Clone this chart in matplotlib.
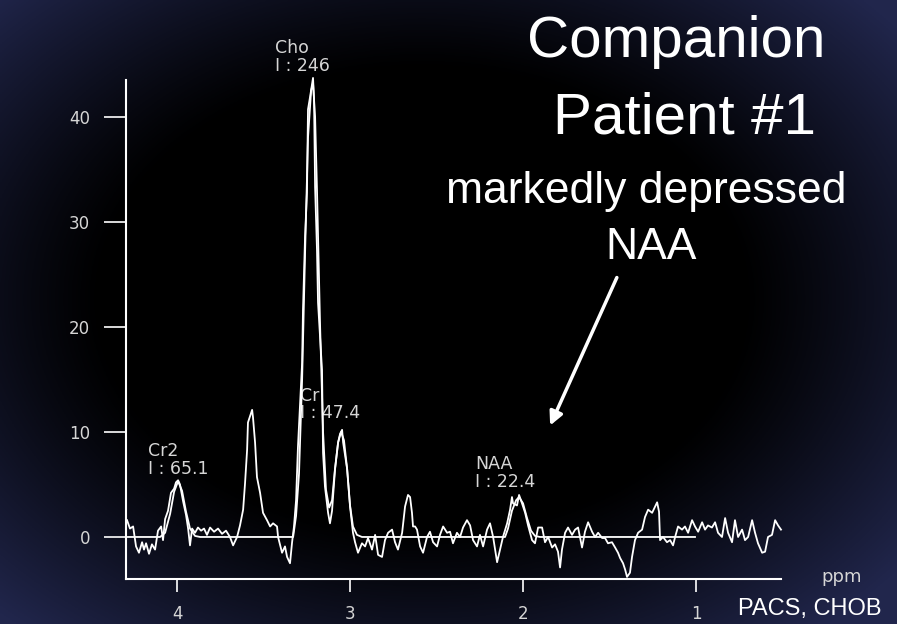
import numpy as np
import matplotlib
matplotlib.use("Agg")
import matplotlib.pyplot as plt

# ---- spectrum (chemical shift in ppm, signal amplitude) ----
spectrum_ppm = [
    4.289, 4.272, 4.254, 4.237, 4.220, 4.202, 4.191, 4.179, 4.162, 4.145,
    4.127, 4.110, 4.092, 4.081, 4.069, 4.052, 4.035, 4.017, 4.006, 3.994,
    3.983, 3.965, 3.948, 3.936, 3.925, 3.913, 3.896, 3.879, 3.861, 3.844,
    3.827, 3.809, 3.786, 3.763, 3.740, 3.717, 3.694, 3.676, 3.653, 3.636,
    3.618, 3.607, 3.595, 3.590, 3.578, 3.566, 3.561, 3.549, 3.538, 3.520,
    3.503, 3.480, 3.462, 3.445, 3.422, 3.416, 3.393, 3.376, 3.364, 3.347,
    3.335, 3.324, 3.312, 3.301, 3.277, 3.272, 3.260, 3.249, 3.243, 3.231,
    3.214, 3.208, 3.202, 3.191, 3.185, 3.162, 3.156, 3.145, 3.127, 3.116,
    3.104, 3.087, 3.069, 3.058, 3.046, 3.040, 3.017, 3.000, 2.983, 2.971,
    2.954, 2.931, 2.913, 2.896, 2.873, 2.855, 2.838, 2.815, 2.798, 2.780,
    2.757, 2.740, 2.723, 2.699, 2.682, 2.665, 2.653, 2.642, 2.636, 2.624,
    2.613, 2.595, 2.578, 2.555, 2.538, 2.520, 2.497, 2.480, 2.462, 2.439,
    2.422, 2.405, 2.382, 2.364, 2.347, 2.324, 2.306, 2.289, 2.266, 2.249,
    2.231, 2.208, 2.191, 2.173, 2.150, 2.133, 2.116, 2.092, 2.075, 2.064,
    2.058, 2.035, 2.023, 2.006, 1.988, 1.971, 1.948, 1.931, 1.913, 1.890,
    1.873, 1.855, 1.832, 1.815, 1.798, 1.786, 1.775, 1.757, 1.740, 1.717,
    1.699, 1.682, 1.659, 1.642, 1.624, 1.601, 1.584, 1.566, 1.543, 1.526,
    1.509, 1.486, 1.468, 1.451, 1.439, 1.422, 1.410, 1.399, 1.382, 1.370,
    1.353, 1.335, 1.312, 1.295, 1.277, 1.254, 1.237, 1.225, 1.214, 1.208,
    1.191, 1.168, 1.150, 1.133, 1.121, 1.104, 1.081, 1.064, 1.046, 1.023,
    1.006, 0.988, 0.965, 0.948, 0.931, 0.908, 0.890, 0.873, 0.850, 0.832,
    0.815, 0.792, 0.775, 0.757, 0.734, 0.717, 0.699, 0.676, 0.659, 0.642,
    0.618, 0.601, 0.584, 0.561, 0.543, 0.526, 0.509,
]
spectrum_amp = [
    1.6, 0.8, 1.0, -0.9, -1.5, -0.5, -1.2, -0.6, -1.6, -0.7,
    -1.2, 0.6, 1.0, -0.3, 1.7, 2.5, 4.2, 4.6, 5.2, 5.4,
    5.0, 3.4, 2.1, 0.8, -0.8, 0.8, 0.4, 0.9, 0.6, 0.8,
    0.2, 0.9, 0.5, 0.8, 0.3, 0.6, 0.0, -0.8, 0.0, 1.1,
    2.6, 5.1, 8.3, 10.9, 11.5, 12.1, 11.4, 9.0, 5.7, 4.2,
    2.3, 1.6, 1.0, 1.3, 1.0, 0.0, -1.5, -0.9, -1.9, -2.5,
    -0.5, 1.0, 3.5, 8.6, 16.6, 21.6, 28.6, 32.8, 40.7, 41.9,
    43.7, 41.6, 33.3, 27.3, 22.3, 15.9, 8.0, 4.8, 2.3, 1.3,
    2.5, 6.4, 9.0, 9.8, 10.2, 9.0, 6.5, 2.9, 0.4, -0.5,
    -1.5, -0.6, -0.9, -0.1, -1.2, 0.2, -1.7, -1.9, -0.3, 0.4,
    0.7, -0.5, -1.2, 0.4, 2.9, 4.0, 3.8, 2.3, 1.0, 1.0,
    0.7, -0.9, -1.5, 0.0, 0.5, -0.5, -0.9, 0.2, 1.0, 0.4,
    0.5, -0.6, 0.4, 0.0, 0.9, 1.6, 1.1, -0.3, -0.9, 0.2,
    -0.9, 0.7, 1.3, 0.0, -2.4, -1.2, 0.0, 1.3, 2.6, 3.8,
    3.2, 3.0, 4.0, 3.2, 2.3, 1.1, -0.3, -0.6, 0.9, 0.9,
    -0.5, 0.0, -1.0, -0.7, -1.4, -2.9, -1.2, 0.4, 0.9, 0.2,
    0.7, 0.9, -1.0, 0.5, 1.4, 0.5, 0.0, 0.4, -0.1, -0.1,
    -0.6, -0.5, -1.0, -1.5, -2.0, -2.5, -3.1, -3.8, -3.4, -1.9,
    -0.3, 0.4, 0.7, 1.9, 2.6, 2.3, 2.9, 3.3, 2.4, -0.3,
    0.0, -0.5, -0.3, -0.8, 0.0, 1.0, 0.7, 1.0, 0.4, 1.6,
    1.0, 0.5, 1.4, 0.7, 1.1, 0.9, 1.4, 0.4, 0.0, 1.8,
    0.4, -0.5, 1.6, 0.0, 0.7, -0.3, 0.0, 1.6, 0.4, -0.6,
    -1.5, -1.4, 0.0, 0.2, 1.6, 1.1, 0.7,
]

# ---- fitted model (baseline plus metabolite peaks) ----
fit_ppm = [
    4.295, 4.098, 4.069, 4.040, 4.017, 3.994, 3.971, 3.948, 3.925, 3.896,
    3.867, 3.329, 3.312, 3.295, 3.277, 3.260, 3.243, 3.225, 3.214, 3.202,
    3.191, 3.173, 3.156, 3.139, 3.121, 3.104, 3.087, 3.069, 3.052, 3.035,
    3.017, 3.000, 2.983, 2.960, 2.931, 2.104, 2.087, 2.064, 2.040, 2.023,
    2.000, 1.977, 1.954, 1.931, 1.902, 1.006,
]
fit_amp = [
    0.0, 0.0, 0.4, 2.2, 4.3, 5.3, 4.4, 2.4, 0.8, 0.1,
    0.0, 0.0, 2.0, 6.0, 15.0, 27.0, 38.0, 42.5, 43.2, 40.0,
    33.0, 20.0, 10.0, 4.5, 2.8, 3.5, 6.5, 9.0, 10.0, 9.2,
    6.5, 3.0, 1.0, 0.2, 0.0, 0.0, 0.8, 2.5, 3.5, 3.8,
    3.2, 1.8, 0.6, 0.1, 0.0, 0.0,
]

# ---- metabolite annotations ----
peak_names = ["Cho", "Cr2", "Cr", "NAA"]
peak_integrals = ["246", "65.1", "47.4", "22.4"]
label_ppm = [3.434, 4.168, 3.289, 2.277]
label_top = [47.4, 9.0, 14.3, 7.8]

x_ticks = [4, 3, 2, 1]
y_ticks = [0, 10, 20, 30, 40]

W, H = 897, 624
fig = plt.figure(figsize=(W / 100, H / 100), dpi=100)
fig.patch.set_facecolor("black")

# dark navy vignette behind everything
bg = fig.add_axes([0, 0, 1, 1], zorder=-5)
gx, gy = np.meshgrid(np.linspace(0, 1, 450), np.linspace(0, 1, 312))
d = np.sqrt(((gx - 0.47) / 0.58) ** 2 + ((gy - 0.52) / 0.60) ** 2)
t = np.clip((d - 0.62) / 0.55, 0, 1) ** 1.1
edge = np.array([0.13, 0.15, 0.30])
img = t[..., None] * edge[None, None, :]
bg.imshow(img, extent=[0, 1, 0, 1], aspect="auto", origin="lower")
bg.axis("off")

# spectrum axes
ax = fig.add_axes([126 / W, 1 - 579 / H, (781 - 126) / W, (579 - 80) / H])
ax.set_facecolor("none")
ax.set_xlim(4.295, 0.509)
ax.set_ylim(-4.0, 43.5)

ax.plot(fit_ppm, fit_amp, color="white", lw=1.3, clip_on=False, zorder=3)
ax.plot(spectrum_ppm, spectrum_amp, color="white", lw=1.3, clip_on=False, zorder=4)

for s in ["top", "right"]:
    ax.spines[s].set_visible(False)
for s in ["left", "bottom"]:
    ax.spines[s].set_color("white")
    ax.spines[s].set_linewidth(1.5)

label_color = "#d6d6d6"
ax.set_xticks(x_ticks)
ax.set_xticklabels([str(v) for v in x_ticks])
ax.set_yticks(y_ticks)
ax.set_yticklabels([str(v) for v in y_ticks])
ax.tick_params(axis="y", direction="out", length=16, width=1.2, color="white",
               labelcolor=label_color, labelsize=12, pad=10)
ax.tick_params(axis="x", direction="out", length=9, width=1.2, color="white",
               labelcolor=label_color, labelsize=12, pad=10)

for name, integ, px, py in zip(peak_names, peak_integrals, label_ppm, label_top):
    ax.text(px, py, f"{name}\nI : {integ}", color=label_color, fontsize=12.5,
            family="DejaVu Sans", ha="left", va="top", linespacing=0.98,
            zorder=2, clip_on=False)

fig.text(842 / W, 1 - 577 / H, "ppm", color=label_color, fontsize=13,
         family="DejaVu Sans", ha="center", va="center")

# title block
title_font = ["Liberation Sans", "DejaVu Sans"]
fig.text(676 / W, 1 - 57 / H, "Companion", color="white", fontsize=42,
         family=title_font, ha="center", va="baseline")
fig.text(684 / W, 1 - 133 / H, "Patient #1", color="white", fontsize=42,
         family=title_font, ha="center", va="baseline")
fig.text(646 / W, 1 - 203 / H, "markedly depressed", color="white", fontsize=32,
         family=title_font, ha="center", va="baseline")
fig.text(651 / W, 1 - 259 / H, "NAA", color="white", fontsize=32,
         family=title_font, ha="center", va="baseline")

fig.add_artist(matplotlib.patches.FancyArrowPatch(
    (618 / W, 1 - 275 / H), (549 / W, 1 - 428 / H),
    transform=fig.transFigure, arrowstyle="-|>", mutation_scale=20,
    color="white", lw=2.5))

fig.text(738 / W, 1 - 609 / H, "PACS, CHOB", color="white", fontsize=17,
         family=title_font, ha="left", va="center")

fig.savefig("out.png", dpi=100, facecolor=fig.get_facecolor())
